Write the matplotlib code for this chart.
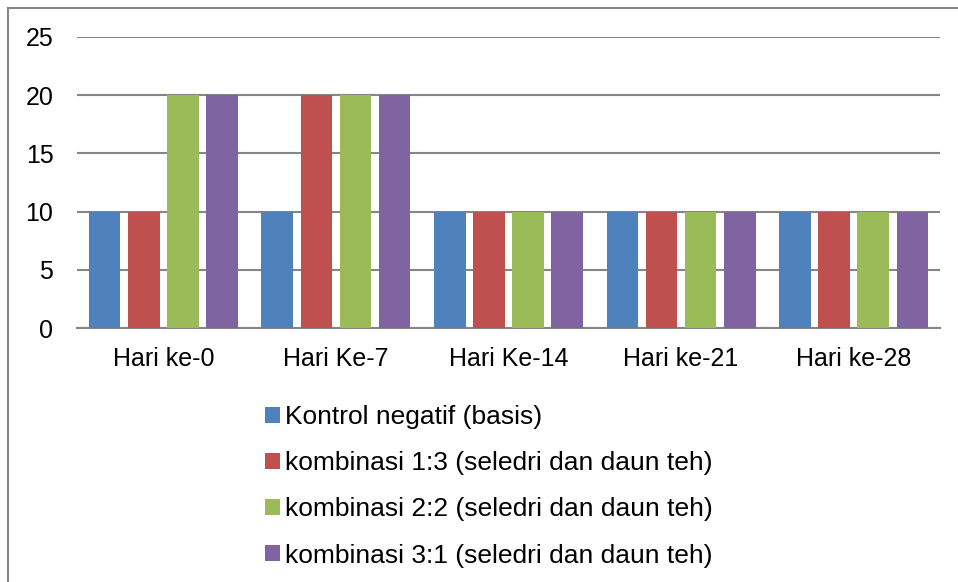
import matplotlib
matplotlib.use("Agg")
import matplotlib.pyplot as plt
from matplotlib.patches import Rectangle, Patch
import numpy as np

plt.rcParams['font.family'] = ['Liberation Sans', 'DejaVu Sans']

categories = ["Hari ke-0", "Hari Ke-7", "Hari Ke-14", "Hari ke-21", "Hari ke-28"]
series_names = ["Kontrol negatif (basis)",
                "kombinasi 1:3 (seledri dan daun teh)",
                "kombinasi 2:2 (seledri dan daun teh)",
                "kombinasi 3:1 (seledri dan daun teh)"]
kontrol = [10, 10, 10, 10, 10]
komb13 = [10, 20, 10, 10, 10]
komb22 = [20, 20, 10, 10, 10]
komb31 = [20, 20, 10, 10, 10]
colors = ["#4F81BD", "#C0504D", "#9BBB59", "#8064A2"]
yticks = [0, 5, 10, 15, 20, 25]

fig = plt.figure(figsize=(9.58, 5.82), dpi=100)
ax = fig.add_axes([77/958, 1-328/582, (940-77)/958, (328-37)/582])

x = np.arange(len(categories))
step = 0.227
width = 0.183
allser = [kontrol, komb13, komb22, komb31]
for i, (vals, c) in enumerate(zip(allser, colors)):
    ax.bar(x + (i - 1.5) * step, vals, width=width, color=c, zorder=3)

ax.set_xlim(-0.5, len(categories) - 0.5)
ax.set_ylim(0, 25)
ax.set_yticks(yticks)
ax.set_xticks(x)
ax.set_xticklabels(categories)
ax.tick_params(axis='both', length=0, labelsize=18)
ax.tick_params(axis='y', pad=17)
ax.tick_params(axis='x', pad=14)
ax.grid(axis='y', color='#868686', linewidth=1.5, zorder=0)
for s in ['top', 'right', 'left']:
    ax.spines[s].set_visible(False)
ax.spines['bottom'].set_color('#868686')
ax.spines['bottom'].set_linewidth(1.5)

handles = [Patch(facecolor=c, edgecolor='none') for c in colors]
fig.legend(handles, series_names, loc='upper left',
           bbox_to_anchor=(265/958, 1-405/582), frameon=False, fontsize=19,
           handlelength=0.55, handleheight=0.55, handletextpad=0.2,
           labelspacing=0.84, borderaxespad=0, borderpad=0)

fig.patches.append(Rectangle((7.5/958, -0.1), 1.2, 1 - 7.5/582 + 0.1,
                             transform=fig.transFigure, fill=False,
                             edgecolor='#868686', linewidth=1.5))

fig.savefig("out.png", dpi=100)
